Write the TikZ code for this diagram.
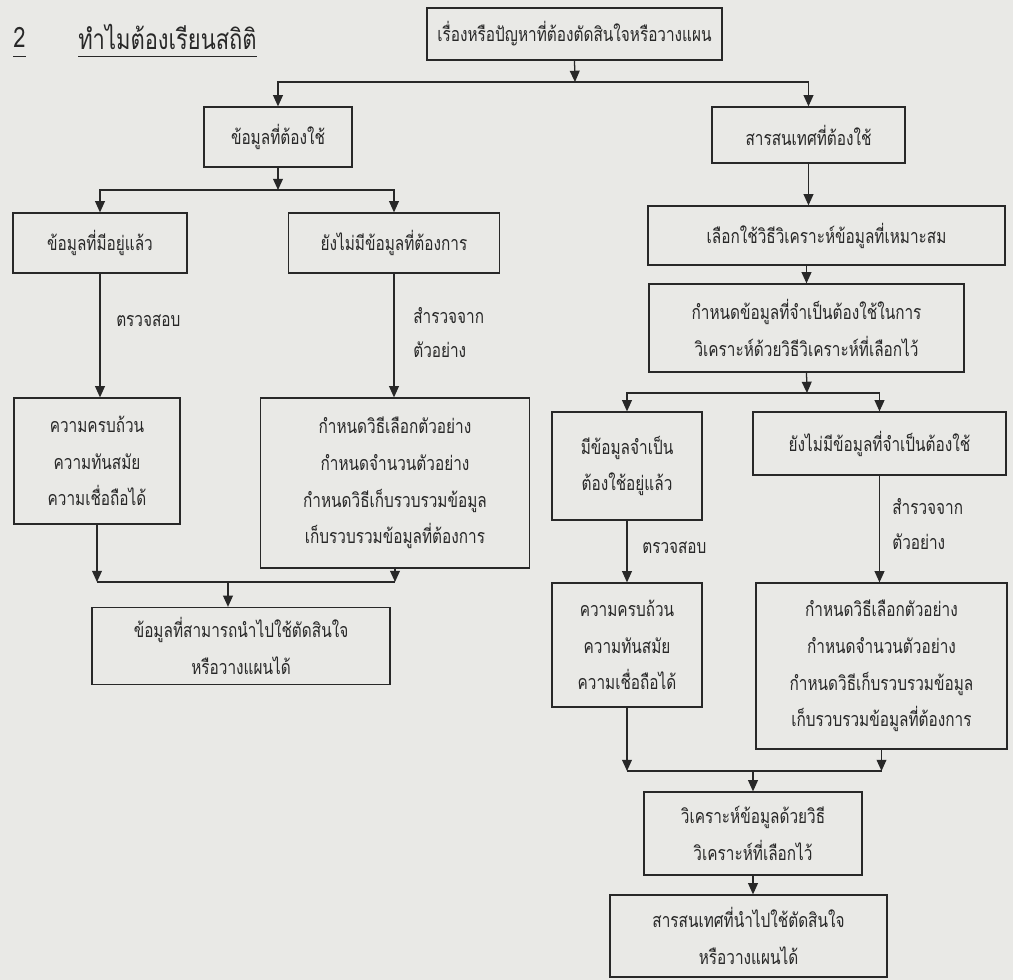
\documentclass[tikz,border=0pt]{standalone}
\usepackage{fontspec}
\newfontfamily\thaifont[Script=Thai,FakeStretch=0.78]{Loma}
\usetikzlibrary{arrows.meta,positioning}
\definecolor{paper}{RGB}{233,233,230}
\definecolor{ink}{RGB}{40,40,40}
\tikzset{
  box/.style={draw=ink, line width=0.9pt, align=center, inner sep=0pt,
    text=ink, font=\thaifont\fontsize{14}{26}\selectfont},
  wh/.style 2 args={minimum width=#1*0.025cm, minimum height=#2*0.025cm},
  arr/.style={draw=ink, line width=0.9pt, -{Triangle[length=8pt,width=7pt]}},
  link/.style={draw=ink, line width=0.9pt},
  lbl/.style={anchor=west, inner sep=0pt, text=ink,
    font=\thaifont\fontsize{14}{26}\selectfont},
  head/.style={lbl, font=\thaifont\fontsize{20}{22}\selectfont}
}

\begin{document}
\begin{tikzpicture}[x=0.025cm, y=-0.025cm]
  % Page
  \fill[paper] (0,0) rectangle (1013,980);

  % Title
  \node[head] (num) at (13,37) {2};
  \node[head] (title) at (78,37) {ทำไมต้องเรียนสถิติ};
  \draw[link, line width=0.6pt] (num.west |- 0,56) -- (num.east |- 0,56);
  \draw[link, line width=0.6pt] (title.west |- 0,56) -- (title.east |- 0,56);

  % Top
  \node[box, wh={295}{52}] (issue) at (574.5,34) {เรื่องหรือปัญหาที่ต้องตัดสินใจหรือวางแผน};
  \node[box, wh={148}{60}] (need) at (278,137) {ข้อมูลที่ต้องใช้};
  \node[box, wh={193}{56}] (info) at (808.5,135) {สารสนเทศที่ต้องใช้};
  \coordinate (j1) at (575,82);
  \draw[arr] (issue.south) -- (j1);
  \draw[arr] (j1) -| (need.north);
  \draw[arr] (j1) -| (info.north);

  % Left branch
  \node[box, wh={174}{60}] (have) at (100,243) {ข้อมูลที่มีอยู่แล้ว};
  \node[box, wh={211}{60}] (lack) at (394,243) {ยังไม่มีข้อมูลที่ต้องการ};
  \node[box, wh={166}{126}] (qualA) at (97,461) {ความครบถ้วน\\ความทันสมัย\\ความเชื่อถือได้};
  \node[box, wh={269}{170}] (planA) at (395,483) {กำหนดวิธีเลือกตัวอย่าง\\กำหนดจำนวนตัวอย่าง\\กำหนดวิธีเก็บรวบรวมข้อมูล\\เก็บรวบรวมข้อมูลที่ต้องการ};
  \node[box, wh={298}{77}] (usable) at (241,646) {ข้อมูลที่สามารถนำไปใช้ตัดสินใจ\\หรือวางแผนได้};
  \coordinate (j2) at (278,190);
  \draw[arr] (need.south) -- (j2);
  \draw[arr] (j2) -| (have.north);
  \draw[arr] (j2) -| (lack.north);
  \draw[arr] (have.south) -- (have.south |- qualA.north);
  \draw[arr] (lack.south) -- (lack.south |- planA.north);
  \node[lbl] (checkA) at (116,321) {ตรวจสอบ};
  \node[lbl] (surveyA) at (413,316) {สำรวจจาก};
  \node[lbl] (sampleA) at (413,350) {ตัวอย่าง};
  \coordinate (j3) at (228,582);
  \draw[arr] (qualA.south) -- (qualA.south |- j3);
  \draw[arr] (planA.south) -- (planA.south |- j3);
  \draw[link] (qualA.south |- j3) -- (planA.south |- j3);
  \draw[arr] (j3) -- (j3 |- usable.north);

  % Right branch
  \node[box, wh={357}{59}] (method) at (826.5,235.5) {เลือกใช้วิธีวิเคราะห์ข้อมูลที่เหมาะสม};
  \node[box, wh={315}{88}] (define) at (806.5,328) {กำหนดข้อมูลที่จำเป็นต้องใช้ในการ\\วิเคราะห์ด้วยวิธีวิเคราะห์ที่เลือกไว้};
  \node[box, wh={150}{108}] (haveB) at (627,466) {มีข้อมูลจำเป็น\\ต้องใช้อยู่แล้ว};
  \node[box, wh={253}{63}] (lackB) at (879.5,443.5) {ยังไม่มีข้อมูลที่จำเป็นต้องใช้};
  \node[box, wh={150}{124}] (qualB) at (627,645) {ความครบถ้วน\\ความทันสมัย\\ความเชื่อถือได้};
  \node[box, wh={251}{166}] (planB) at (881.5,666) {กำหนดวิธีเลือกตัวอย่าง\\กำหนดจำนวนตัวอย่าง\\กำหนดวิธีเก็บรวบรวมข้อมูล\\เก็บรวบรวมข้อมูลที่ต้องการ};
  \node[box, wh={218}{83}] (analyze) at (753,833.5) {วิเคราะห์ข้อมูลด้วยวิธี\\วิเคราะห์ที่เลือกไว้};
  \node[box, wh={277}{82}] (result) at (748.5,936) {สารสนเทศที่นำไปใช้ตัดสินใจ\\หรือวางแผนได้};
  \draw[arr] (info.south) -- (info.south |- method.north);
  \draw[arr] (define.north |- method.south) -- (define.north);
  \coordinate (j4) at (807,393);
  \draw[arr] (define.south) -- (j4);
  \draw[arr] (j4) -| (haveB.north);
  \draw[arr] (j4) -| (lackB.north);
  \draw[arr] (haveB.south) -- (haveB.south |- qualB.north);
  \draw[arr] (lackB.south) -- (lackB.south |- planB.north);
  \node[lbl] (checkB) at (642,548) {ตรวจสอบ};
  \node[lbl] (surveyB) at (892,507) {สำรวจจาก};
  \node[lbl] (sampleB) at (892,542) {ตัวอย่าง};
  \coordinate (j5) at (753,771);
  \draw[arr] (qualB.south) -- (qualB.south |- j5);
  \draw[arr] (planB.south) -- (planB.south |- j5);
  \draw[link] (qualB.south |- j5) -- (planB.south |- j5);
  \draw[arr] (j5) -- (analyze.north);
  \draw[arr] (analyze.south) -- (analyze.south |- result.north);
\end{tikzpicture}
\end{document}
